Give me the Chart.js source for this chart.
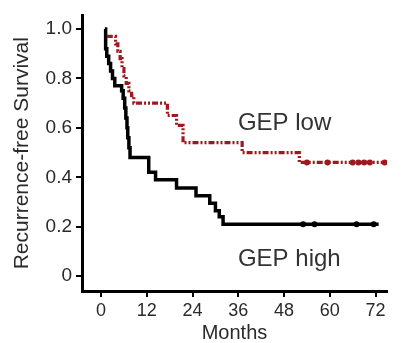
<!DOCTYPE html>
<html>
<head>
<meta charset="utf-8">
<script src="https://cdn.jsdelivr.net/npm/chart.js@4"></script>
<style>
  html, body { margin: 0; padding: 0; background: #fff; }
  canvas { display: block; }
</style>
</head>
<body>
<canvas id="grafico" width="407" height="343"></canvas>
<script>
//dados do grafico (Kaplan-Meier)
var highMonths = [1.0, 1.2, 1.5, 2.0, 2.5, 3.0, 3.6, 5.4, 5.8, 6.2, 6.5, 6.8, 7.0, 7.3, 7.6, 12.5, 14.3, 19.8, 24.9, 28.5, 30.0, 31.0, 32.0, 72.8];
var highSurv   = [1.00, 0.92, 0.89, 0.86, 0.83, 0.80, 0.77, 0.75, 0.72, 0.68, 0.64, 0.60, 0.56, 0.52, 0.48, 0.42, 0.39, 0.357, 0.325, 0.295, 0.265, 0.24, 0.21, 0.21];

var lowMonths = [1.5, 3.8, 4.4, 5.0, 5.5, 6.0, 6.6, 7.3, 8.0, 8.6, 17.4, 19.8, 21.5, 37.0, 52.0, 74.8];
var lowSurv   = [0.97, 0.94, 0.91, 0.88, 0.84, 0.81, 0.78, 0.75, 0.73, 0.70, 0.65, 0.61, 0.54, 0.50, 0.46, 0.46];

//marcas de censura
var highCensorMonths = [53, 56, 67, 71.5];
var highCensorSurv   = [0.21, 0.21, 0.21, 0.21];
var lowCensorMonths  = [54, 59.4, 66, 67.5, 69, 70.5, 74.4];
var lowCensorSurv    = [0.46, 0.46, 0.46, 0.46, 0.46, 0.46, 0.46];

//rotulos dos eixos
var xTicks = [0, 12, 24, 36, 48, 60, 72];
var yTicks = [0, 0.2, 0.4, 0.6, 0.8, 1.0];

var groupNames = ['GEP low', 'GEP high'];

var red = '#9f1820';
var fontName = '"Liberation Sans", Arial, sans-serif';

function pontos(xs, ys) {
    return xs.map(function (x, i) { return { x: x, y: ys[i] }; });
}

//textos dentro do grafico
var notas = {
    id: 'notas',
    afterDatasetsDraw: function (chart) {
        var ctx = chart.ctx;
        var xs = chart.scales.x, ys = chart.scales.y;
        ctx.save();
        ctx.font = '24px ' + fontName;
        ctx.fillStyle = '#333';
        ctx.textAlign = 'left';
        ctx.textBaseline = 'alphabetic';
        ctx.fillText(groupNames[0], xs.getPixelForValue(35.9), ys.getPixelForValue(0.593));
        ctx.fillText(groupNames[1], xs.getPixelForValue(35.9), ys.getPixelForValue(0.043));
        ctx.restore();
    }
};

var ctx = document.querySelector('#grafico').getContext('2d');
var kmChart = new Chart(ctx, {
    type: 'line',
    data: {
        datasets: [{
            label: groupNames[0],
            data: pontos(lowMonths, lowSurv),
            borderColor: red,
            borderWidth: 3.2,
            borderDash: [6, 2, 2, 2, 2, 2],
            stepped: true,
            pointRadius: 0,
            fill: false
        },
        {
            label: groupNames[1],
            data: pontos(highMonths, highSurv),
            borderColor: '#000',
            borderWidth: 3.5,
            stepped: true,
            pointRadius: 0,
            fill: false
        },
        {
            label: 'censor low',
            data: pontos(lowCensorMonths, lowCensorSurv),
            showLine: false,
            pointRadius: 3,
            pointBackgroundColor: red,
            pointBorderColor: red,
            pointBorderWidth: 0
        },
        {
            label: 'censor high',
            data: pontos(highCensorMonths, highCensorSurv),
            showLine: false,
            pointRadius: 3,
            pointBackgroundColor: '#000',
            pointBorderColor: '#000',
            pointBorderWidth: 0
        }]
    },
    options: {
        responsive: false,
        devicePixelRatio: 1,
        animation: false,
        layout: { padding: { top: 9, right: 20, left: 0, bottom: 0 } },
        plugins: {
            legend: { display: false },
            tooltip: { enabled: false }
        },
        scales: {
            x: {
                type: 'linear',
                min: -5,
                max: 75,
                afterFit: function (s) { s.height = 52; },
                afterBuildTicks: function (s) {
                    s.ticks = xTicks.map(function (v) { return { value: v }; });
                },
                grid: { display: true, drawOnChartArea: false, drawTicks: true, tickLength: 6, color: '#000', lineWidth: 2 },
                border: { display: true, color: '#000', width: 3 },
                ticks: {
                    color: '#2a2a2a',
                    padding: 3,
                    maxRotation: 0,
                    font: { family: fontName, size: 18 }
                },
                title: {
                    display: true,
                    text: 'Months',
                    color: '#2a2a2a',
                    padding: { top: 0, bottom: 0 },
                    font: { family: fontName, size: 20, lineHeight: 1 }
                }
            },
            y: {
                min: -0.06,
                max: 1.055,
                afterFit: function (s) { s.width = 82; },
                afterBuildTicks: function (s) {
                    s.ticks = yTicks.map(function (v) { return { value: v }; });
                },
                grid: { display: true, drawOnChartArea: false, drawTicks: true, tickLength: 6, color: '#000', lineWidth: 2 },
                border: { display: true, color: '#000', width: 3 },
                ticks: {
                    color: '#2a2a2a',
                    padding: 4,
                    font: { family: fontName, size: 19 },
                    callback: function (v) { return v === 0 ? '0' : v.toFixed(1); }
                },
                title: {
                    display: true,
                    text: 'Recurrence-free Survival',
                    color: '#2a2a2a',
                    padding: { top: 12, bottom: 0 },
                    font: { family: fontName, size: 21, lineHeight: 1 }
                }
            }
        }
    },
    plugins: [notas]
});
</script>
</body>
</html>
